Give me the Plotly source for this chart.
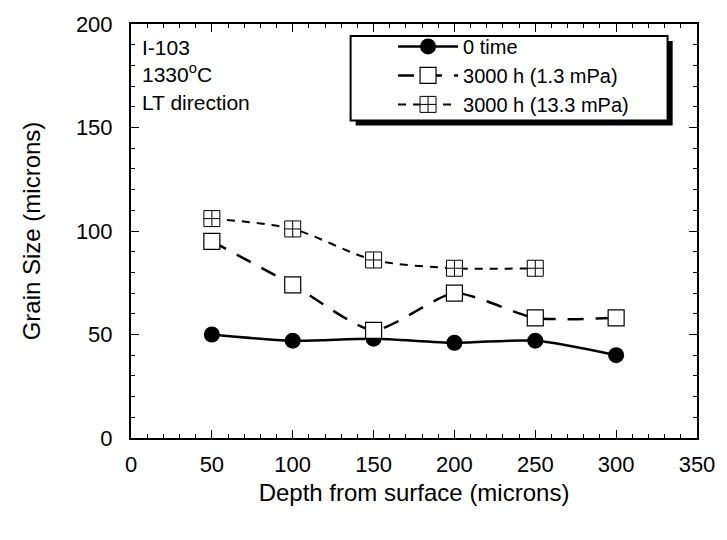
import plotly.graph_objects as go

depth = [50, 100, 150, 200, 250, 300]
depth_13 = [50, 100, 150, 200, 250]
grain_0 = [50, 47, 48, 46, 47, 40]
grain_1p3 = [95, 74, 52, 70, 58, 58]
grain_13p3 = [106, 101, 86, 82, 82]

names = ["0 time", "3000 h (1.3 mPa)", "3000 h (13.3 mPa)"]
notes = ["I-103", "1330<sup>o</sup>C", "LT direction"]
font = "Liberation Sans, Arial, sans-serif"

fig = go.Figure()
fig.add_trace(go.Scatter(
    x=depth, y=grain_0, name=names[0], mode="lines+markers",
    line=dict(color="black", width=2.5, shape="spline", smoothing=0.8),
    marker=dict(symbol="circle", size=16, color="black")))
fig.add_trace(go.Scatter(
    x=depth, y=grain_1p3, name=names[1], mode="lines+markers",
    line=dict(color="black", width=2.5, dash="16px,12px", shape="spline", smoothing=0.6),
    marker=dict(symbol="square", size=16, color="white", line=dict(color="black", width=1.2))))
fig.add_trace(go.Scatter(
    x=depth_13, y=grain_13p3, name=names[2], mode="lines+markers",
    line=dict(color="black", width=2, dash="8px,7px", shape="spline", smoothing=0.8),
    marker=dict(symbol="square-cross", size=16, color="white", line=dict(color="black", width=1))))

# legend box with shadow
fig.add_shape(type="rect", xref="paper", yref="paper", x0=0.397, x1=0.957, y0=0.755, y1=0.959,
              fillcolor="black", line=dict(width=0), layer="above")
fig.add_shape(type="rect", xref="paper", yref="paper", x0=0.388, x1=0.948, y0=0.767, y1=0.971,
              fillcolor="white", line=dict(color="black", width=2), layer="above")

fig.add_annotation(text="<br>".join(notes), xref="paper", yref="paper", x=0.016, y=0.976,
                   xanchor="left", yanchor="top", align="left", showarrow=False,
                   font=dict(family=font, size=21, color="black"))

fig.update_layout(
    width=727, height=540,
    margin=dict(l=131, r=24, t=18, b=102),
    paper_bgcolor="white", plot_bgcolor="white",
    font=dict(family=font, size=22, color="black"),
    showlegend=True,
    legend=dict(x=0.463, y=0.993, xanchor="left", yanchor="top",
                bgcolor="rgba(0,0,0,0)", borderwidth=0,
                font=dict(family=font, size=20), tracegroupgap=0, itemwidth=60),
    xaxis=dict(range=[0, 350], tickvals=[0, 50, 100, 150, 200, 250, 300, 350],
               showline=True, linecolor="black", linewidth=2, mirror="ticks",
               ticks="inside", ticklen=8, tickcolor="black", tickwidth=1,
               minor=dict(ticks="inside", ticklen=4, dtick=10, tickcolor="black"),
               showgrid=False, zeroline=False, ticklabelstandoff=6,
               tickfont=dict(size=22),
               title=dict(text="Depth from surface (microns)", standoff=8,
                          font=dict(size=24))),
    yaxis=dict(range=[0, 200], tickvals=[0, 50, 100, 150, 200],
               showline=True, linecolor="black", linewidth=2, mirror="ticks",
               ticks="inside", ticklen=8, tickcolor="black", tickwidth=1,
               minor=dict(ticks="inside", ticklen=4, dtick=10, tickcolor="black"),
               showgrid=False, zeroline=False, ticklabelstandoff=12,
               tickfont=dict(size=22),
               title=dict(text="Grain Size (microns)", standoff=28,
                          font=dict(size=24))),
)

fig.write_html("out.html")
